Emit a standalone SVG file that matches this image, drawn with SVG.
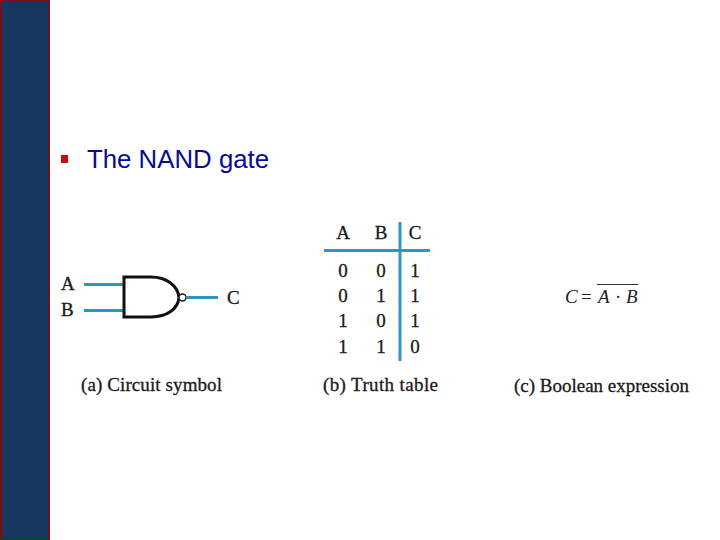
<svg xmlns="http://www.w3.org/2000/svg" width="720" height="540" viewBox="0 0 720 540">
<style>
.s{font-family:"Liberation Serif",serif;fill:#1a1a1a;font-size:19px;stroke:#1a1a1a;stroke-width:.3}
.d{font-family:"Liberation Serif",serif;fill:#1a1a1a;font-size:19px;text-anchor:middle;stroke:#1a1a1a;stroke-width:.3}
.e{font-family:"Liberation Serif",serif;fill:#222;font-size:19px}
.w{stroke:#2e94c4;stroke-width:3;fill:none}
</style>
<rect width="720" height="540" fill="#fff"/>
<rect x="1" y="0" width="48" height="540" fill="#17375e" stroke="#7a0f18" stroke-width="2"/>
<rect x="61" y="155" width="7" height="8" fill="#cc0a14"/>
<text x="87" y="168" font-family="Liberation Sans,sans-serif" font-size="25.800" fill="#0a0a96">The NAND gate</text>
<g id="connectors">
<path class="w" d="M84 284.500H124M84 310.500H124M187 297.500H218"/>
</g>
<g id="gate">
<path d="M124 277H151C167 277 178 286 179 297.500C178 309 167 317 151 317H124Z" fill="#fff" stroke="#111" stroke-width="3"/>
<circle cx="182.500" cy="297.500" r="3.500" fill="#fff" stroke="#222" stroke-width="1.500"/>
</g>
<g id="labels-a">
<text class="s" x="61" y="290">A</text>
<text class="s" x="61" y="316">B</text>
<text class="s" x="227" y="304">C</text>
<text class="s" x="81" y="391" textLength="141" lengthAdjust="spacing">(a) Circuit symbol</text>
</g>
<g id="truth-table">
<path class="w" d="M324 250.500H430M400 222V361"/>
<text class="d" x="343" y="239">A</text><text class="d" x="381" y="239">B</text><text class="d" x="415" y="239">C</text>
<text class="d" x="343" y="277">0</text><text class="d" x="381" y="277">0</text><text class="d" x="415" y="277">1</text>
<text class="d" x="343" y="302">0</text><text class="d" x="381" y="302">1</text><text class="d" x="415" y="302">1</text>
<text class="d" x="343" y="327">1</text><text class="d" x="381" y="327">0</text><text class="d" x="415" y="327">1</text>
<text class="d" x="343" y="353">1</text><text class="d" x="381" y="353">1</text><text class="d" x="415" y="353">0</text>
<text class="s" x="323" y="391" textLength="115" lengthAdjust="spacing">(b) Truth table</text>
</g>
<g id="expression">
<text class="e" x="565" y="303" font-style="italic">C</text>
<text class="e" x="581" y="303">=</text>
<text class="e" x="598" y="303" font-style="italic">A</text>
<text class="e" x="615" y="303">·</text>
<text class="e" x="626" y="303" font-style="italic">B</text>
<path d="M597 284.500H638" stroke="#333" stroke-width="1" fill="none"/>
<text class="s" x="514" y="392" textLength="175" lengthAdjust="spacing">(c) Boolean expression</text>
</g>
</svg>
